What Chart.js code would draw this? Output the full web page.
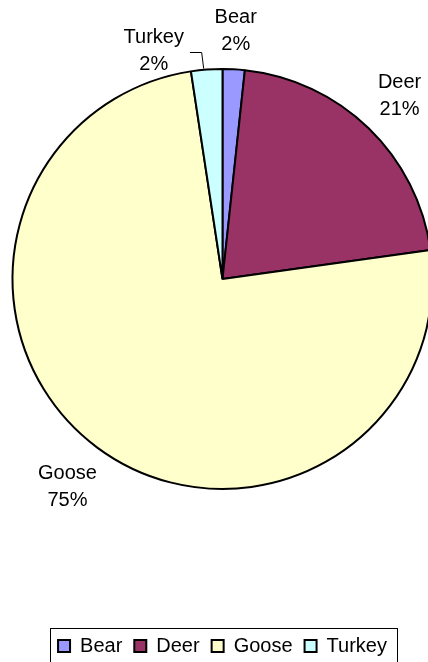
<!DOCTYPE html>
<html>
<head>
<meta charset="utf-8">
<script src="https://cdn.jsdelivr.net/npm/chart.js@4.4.0/dist/chart.umd.min.js"></script>
<style>
  html, body { margin: 0; padding: 0; background: #fff; overflow: hidden; width: 428px; height: 662px; }
  #wrap { position: relative; width: 428px; height: 662px; overflow: hidden; }
  #huntChart { position: absolute; left: 0; top: -66px; }
</style>
</head>
<body>
<div id="wrap"><canvas id="huntChart" width="445" height="732"></canvas></div>
<script>
// Harvest share by species (percent of total)
const species = ['Bear', 'Deer', 'Goose', 'Turkey'];
const harvestShare = [1.7, 21.1, 74.8, 2.4];
const sliceColors = ['#9999FF', '#993366', '#FFFFCC', '#CCFFFF'];

const FONT = 'Liberation Sans, Arial, sans-serif';

// Two-line "name / percent" labels outside each slice
const sliceLabels = {
    id: 'sliceLabels',
    afterDatasetsDraw(chart, args, opts) {
        const ctx = chart.ctx;
        const data = chart.data.datasets[0].data;
        const total = data.reduce((a, b) => a + b, 0);
        ctx.save();
        ctx.font = opts.size + 'px ' + FONT;
        ctx.fillStyle = '#000';
        ctx.textAlign = 'center';
        ctx.textBaseline = 'middle';
        chart.getDatasetMeta(0).data.forEach((arc, i) => {
            const p = arc.getProps(['x', 'y', 'startAngle', 'endAngle', 'outerRadius'], true);
            const mid = (p.startAngle + p.endAngle) / 2;
            const cos = Math.cos(mid), sin = Math.sin(mid);
            const lines = [chart.data.labels[i], Math.round(data[i] / total * 100) + '%'];
            const widths = lines.map(t => ctx.measureText(t).width);
            const hw = Math.max(...widths) / 2;
            const hh = opts.lineHeight;
            const dist = p.outerRadius + opts.gap + hw * Math.abs(cos) + hh * Math.abs(sin);
            const shift = opts.shift[i];
            const cx = p.x + cos * dist + (shift ? shift[0] : 0);
            const cy = p.y + sin * dist + (shift ? shift[1] : 0);
            ctx.fillText(lines[0], cx, cy - hh / 2);
            ctx.fillText(lines[1], cx, cy + hh / 2);

            // moved labels get a leader line back to their slice
            if (shift) {
                const ax = p.x + cos * p.outerRadius;
                const ay = p.y + sin * p.outerRadius;
                ctx.strokeStyle = '#000';
                ctx.lineWidth = 1;
                ctx.beginPath();
                ctx.moveTo(cx + widths[0] / 2 + 6, cy + 1.5);
                ctx.lineTo(ax - 5, cy + 1.5);
                ctx.lineTo(ax - 3, ay - 1);
                ctx.stroke();
            }
        });
        ctx.restore();
    }
};

// Thin frame around the legend row
const legendFrame = {
    id: 'legendFrame',
    afterDraw(chart) {
        const boxes = chart.legend.legendHitBoxes;
        if (!boxes || !boxes.length) return;
        const first = boxes[0], last = boxes[boxes.length - 1];
        const ctx = chart.ctx;
        ctx.save();
        ctx.strokeStyle = '#000';
        ctx.lineWidth = 1;
        ctx.strokeRect(Math.round(first.left - 8) + 0.5, Math.round(first.top - 8) + 0.5,
            Math.round(last.left + last.width - first.left + 18), first.height + 16);
        ctx.restore();
    }
};

new Chart(document.getElementById('huntChart'), {
    type: 'pie',
    data: {
        labels: species,
        datasets: [{
            data: harvestShare,
            backgroundColor: sliceColors,
            borderColor: '#000',
            borderWidth: 2,
            radius: 210
        }]
    },
    options: {
        responsive: false,
        animation: false,
        events: [],
        devicePixelRatio: 1,
        layout: { padding: 0 },
        plugins: {
            tooltip: { enabled: false },
            legend: {
                position: 'bottom',
                labels: {
                    boxWidth: 12,
                    boxHeight: 12,
                    padding: 12,
                    color: '#000',
                    font: { family: FONT, size: 20 }
                }
            },
            sliceLabels: {
                size: 20,
                lineHeight: 27,
                gap: 10,
                shift: [null, null, null, [-50, 20.5]]
            }
        }
    },
    plugins: [sliceLabels, legendFrame]
});
</script>
</body>
</html>
